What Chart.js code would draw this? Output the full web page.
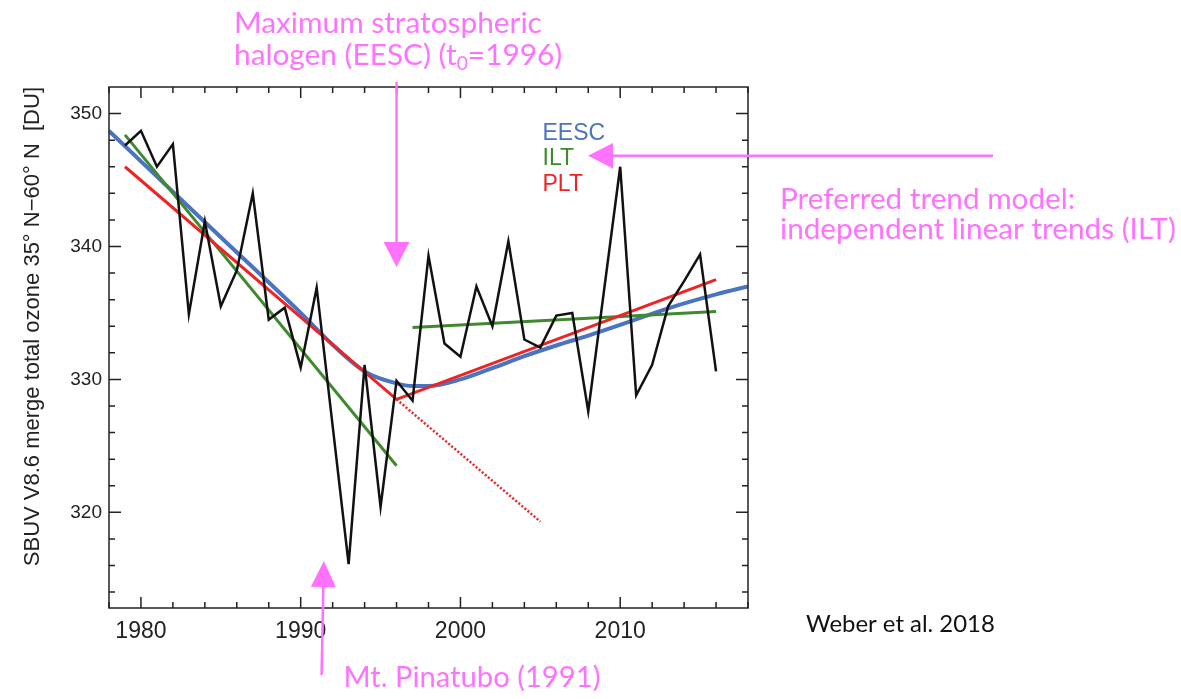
<!DOCTYPE html>
<html>
<head>
<meta charset="utf-8">
<script src="https://cdn.jsdelivr.net/npm/chart.js@4.4.0/dist/chart.umd.min.js"></script>
<style>
  html, body { margin: 0; padding: 0; background: #fff; }
  #wrap { width: 1181px; height: 699px; }
</style>
</head>
<body>
<div id="wrap"><canvas id="ozoneChart" width="1181" height="699"></canvas></div>
<script>
// --- Data ---
const years = [1979, 1980, 1981, 1982, 1983, 1984, 1985, 1986, 1987, 1988,
               1989, 1990, 1991, 1992, 1993, 1994, 1995, 1996, 1997, 1998,
               1999, 2000, 2001, 2002, 2003, 2004, 2005, 2006, 2007, 2008,
               2009, 2010, 2011, 2012, 2013, 2014, 2015, 2016];
const ozone = [347.6, 348.7, 346.0, 347.7, 334.9, 341.9, 335.5, 338.2, 344.0, 334.5,
               335.4, 330.9, 336.9, 326.5, 316.1, 331.1, 320.4, 329.9, 328.4, 339.3,
               332.7, 331.7, 337.0, 334.0, 340.4, 333.0, 332.4, 334.8, 335.0, 327.6,
               336.8, 346.0, 328.8, 331.1, 335.5, 337.4, 339.4, 330.6];

const eescYears = [1978, 1980, 1985, 1990, 1992, 1994, 1996, 1997, 1998, 2000,
                   2002, 2004, 2006, 2008, 2010, 2013, 2016, 2018];
const eescValues = [348.7, 346.4, 340.7, 335.0, 332.6, 330.6, 329.7, 329.5, 329.5, 330.0,
                    330.85, 331.75, 332.55, 333.3, 334.1, 335.35, 336.4, 337.0];

const iltEarlyYears = [1979, 1996];
const iltEarlyValues = [348.4, 323.5];
const iltLateYears = [1997, 2016];
const iltLateValues = [333.9, 335.1];

const pltYears = [1979, 1996, 2016];
const pltValues = [346.0, 328.5, 337.5];
const pltExtYears = [1996, 2005];
const pltExtValues = [328.5, 319.3];

const xTicks = [1980, 1990, 2000, 2010];
const yTicks = [320, 330, 340, 350];

const blue = '#4a73c2';
const green = '#3e8a2c';
const red = '#ee2424';
const pink = '#ff72ff';
const axisFont = '"Liberation Sans", Arial, Helvetica, sans-serif';
const noteFont = 'Lato, "Open Sans", sans-serif';

const toPoints = (xs, ys) => xs.map((x, i) => ({ x, y: ys[i] }));

// text sized so that it spans a given width
function fitSize(ctx, text, width, family) {
    ctx.font = `100px ${family}`;
    return 100 * width / ctx.measureText(text).width;
}

function arrow(ctx, x1, y1, x2, y2, head, half) {
    // shaft from (x1,y1) to the head base, head tip at (x2,y2)
    const ang = Math.atan2(y2 - y1, x2 - x1);
    const bx = x2 - Math.cos(ang) * head, by = y2 - Math.sin(ang) * head;
    ctx.beginPath();
    ctx.moveTo(x1, y1);
    ctx.lineTo(bx, by);
    ctx.stroke();
    ctx.beginPath();
    ctx.moveTo(x2, y2);
    ctx.lineTo(bx + Math.sin(ang) * half, by - Math.cos(ang) * half);
    ctx.lineTo(bx - Math.sin(ang) * half, by + Math.cos(ang) * half);
    ctx.closePath();
    ctx.fill();
}

const decorations = {
    id: 'decorations',
    afterDraw(chart) {
        const { ctx, chartArea: a, scales: { x, y } } = chart;
        ctx.save();

        // frame + inward ticks on all four sides
        ctx.strokeStyle = '#222';
        ctx.lineWidth = 1.5;
        ctx.strokeRect(a.left, a.top, a.right - a.left, a.bottom - a.top);
        ctx.beginPath();
        for (let v = 1978; v <= 2018; v += 2) {
            const px = x.getPixelForValue(v);
            const len = v % 10 === 0 ? 11 : 6;
            ctx.moveTo(px, a.bottom); ctx.lineTo(px, a.bottom - len);
            ctx.moveTo(px, a.top); ctx.lineTo(px, a.top + len);
        }
        for (let v = 314; v <= 350; v += 2) {
            const py = y.getPixelForValue(v);
            const len = v % 10 === 0 ? 12 : 6;
            ctx.moveTo(a.left, py); ctx.lineTo(a.left + len, py);
            ctx.moveTo(a.right, py); ctx.lineTo(a.right - len, py);
        }
        ctx.stroke();

        // legend (coloured text only)
        ctx.font = `23px ${axisFont}`;
        ctx.textBaseline = 'alphabetic';
        ctx.textAlign = 'left';
        ctx.fillStyle = blue; ctx.fillText('EESC', 542.5, 139.5);
        ctx.fillStyle = green; ctx.fillText('ILT', 542.5, 165);
        ctx.fillStyle = red; ctx.fillText('PLT', 542.5, 190.5);

        // pink annotations
        ctx.fillStyle = pink;
        ctx.strokeStyle = pink;
        ctx.lineWidth = 2.5;

        let s = fitSize(ctx, 'Maximum stratospheric', 308, noteFont);
        ctx.font = `${s}px ${noteFont}`;
        ctx.fillText('Maximum stratospheric', 234, 33);
        let tx = 234;
        const part1 = 'halogen (EESC) (t';
        ctx.fillText(part1, tx, 65);
        tx += ctx.measureText(part1).width;
        ctx.font = `${s * 0.65}px ${noteFont}`;
        ctx.fillText('0', tx, 65 + s * 0.18);
        tx += ctx.measureText('0').width;
        ctx.font = `${s}px ${noteFont}`;
        ctx.fillText('=1996)', tx, 65);

        s = fitSize(ctx, 'independent linear trends (ILT)', 396, noteFont);
        ctx.font = `${s}px ${noteFont}`;
        ctx.fillText('Preferred trend model:', 780, 208.5);
        ctx.fillText('independent linear trends (ILT)', 780, 239);

        s = fitSize(ctx, 'Mt. Pinatubo (1991)', 257, noteFont);
        ctx.font = `${s}px ${noteFont}`;
        ctx.fillText('Mt. Pinatubo (1991)', 343.5, 686.5);

        const tX = x.getPixelForValue(1996);
        arrow(ctx, tX, 82, tX, 267, 25, 13);
        arrow(ctx, 993, 155.7, 588, 155.7, 25, 12.7);
        const pX = x.getPixelForValue(1991.45);
        arrow(ctx, pX - 2.3, 675, pX, 561, 26, 12.5);

        // citation
        ctx.fillStyle = '#111';
        s = fitSize(ctx, 'Weber et al. 2018', 189, noteFont);
        ctx.font = `${s}px ${noteFont}`;
        ctx.fillText('Weber et al. 2018', 806, 631.5);

        ctx.restore();
    }
};

new Chart(document.getElementById('ozoneChart'), {
    type: 'line',
    data: {
        datasets: [
            { label: 'SBUV', data: toPoints(years, ozone), borderColor: '#111', borderWidth: 2.5, order: 0 },
            { label: 'PLT', data: toPoints(pltYears, pltValues), borderColor: red, borderWidth: 3, order: 1 },
            { label: 'PLT ext', data: toPoints(pltExtYears, pltExtValues), borderColor: red,
              borderWidth: 2.5, borderDash: [2, 2], order: 2 },
            { label: 'ILT',
              data: [...toPoints(iltEarlyYears, iltEarlyValues), { x: 1996.5, y: null }, ...toPoints(iltLateYears, iltLateValues)],
              borderColor: green, borderWidth: 3, spanGaps: false, order: 3 },
            { label: 'EESC', data: toPoints(eescYears, eescValues), borderColor: blue, borderWidth: 4,
              cubicInterpolationMode: 'monotone', order: 4 }
        ]
    },
    options: {
        responsive: false,
        devicePixelRatio: 1,
        animation: false,
        events: [],
        layout: { padding: { left: 0, top: 87, right: 433, bottom: 0 } },
        elements: { point: { radius: 0 }, line: { tension: 0, borderCapStyle: 'butt' } },
        plugins: { legend: { display: false }, tooltip: { enabled: false } },
        scales: {
            x: {
                type: 'linear', min: 1978, max: 2018,
                afterBuildTicks: s => { s.ticks = xTicks.map(v => ({ value: v })); },
                afterFit: s => { s.height = 91; },
                grid: { display: false, drawTicks: false },
                border: { display: false },
                ticks: { font: { family: axisFont, size: 23 }, color: '#222', padding: 10, maxRotation: 0,
                         callback: v => String(v) }
            },
            y: {
                type: 'linear', min: 312.8, max: 352,
                afterBuildTicks: s => { s.ticks = yTicks.map(v => ({ value: v })); },
                afterFit: s => { s.width = 109; },
                grid: { display: false, drawTicks: false },
                border: { display: false },
                ticks: { font: { family: axisFont, size: 19 }, color: '#222', padding: 7 },
                title: {
                    display: true, align: 'end',
                    text: 'SBUV V8.6 merge total ozone 35° N−60° N  [DU]',
                    font: { family: axisFont, size: 22 }, color: '#222',
                    padding: { top: 20, bottom: 0 }
                }
            }
        }
    },
    plugins: [decorations]
});
</script>
</body>
</html>
